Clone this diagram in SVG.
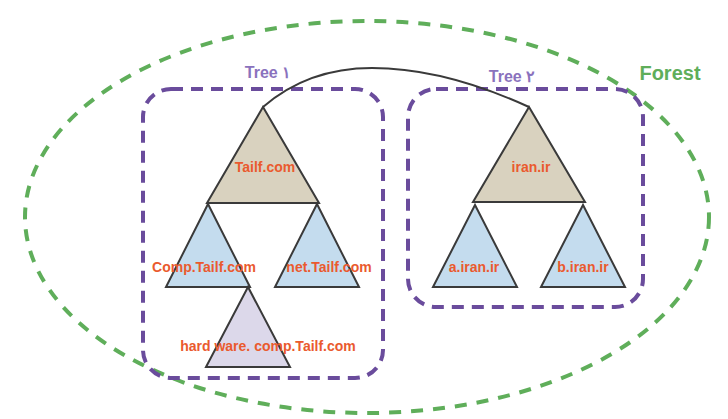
<svg xmlns="http://www.w3.org/2000/svg" width="728" height="419" viewBox="0 0 728 419">
<style>
.tri{stroke:#3a3a3a;stroke-width:2;stroke-linejoin:miter}
.root{fill:#d9d2bf}
.child{fill:#c4dcee}
.grand{fill:#dcd8ea}
.lbl{font-family:"Liberation Sans",Arial,sans-serif;font-weight:bold;font-size:14px;fill:#ea5a2e;text-anchor:middle}
.tree{font-family:"Liberation Sans",Arial,sans-serif;font-weight:bold;font-size:16px;fill:#8a72bd;text-anchor:middle}
.box{fill:none;stroke:#6a4c9c;stroke-width:4;stroke-dasharray:12 8}
.forest{fill:none;stroke:#5fae5a;stroke-width:4;stroke-dasharray:12 10}
</style>
<rect width="728" height="419" fill="#ffffff"/>
<g id="forest">
<ellipse class="forest" cx="367" cy="217" rx="342" ry="196"/>
<text x="670" y="80" font-family="'Liberation Sans',Arial,sans-serif" font-weight="bold" font-size="20" fill="#5fae5a" text-anchor="middle">Forest</text>
</g>
<g id="tree1">
<rect class="box" x="143" y="89" width="240" height="289" rx="28"/>
<text class="tree" x="268" y="78">Tree ۱</text>
</g>
<g id="tree2">
<rect class="box" x="408" y="89" width="235" height="218" rx="28"/>
<text class="tree" x="512" y="82">Tree ۲</text>
</g>
<g id="connectors">
<path d="M263,107 C300,75 340,68 372,68 C420,68 470,80 529,107" fill="none" stroke="#3a3a3a" stroke-width="2"/>
</g>
<g id="tailf">
<polygon class="tri root" points="263,107 207,203 319,203"/>
<text class="lbl" x="265" y="172">Tailf.com</text>
</g>
<g id="comp">
<polygon class="tri child" points="208,204 166,287 250,287"/>
<text class="lbl" x="204" y="272">Comp.Tailf.com</text>
</g>
<g id="net">
<polygon class="tri child" points="317,204 275,287 359,287"/>
<text class="lbl" x="329" y="272">net.Tailf.com</text>
</g>
<g id="hardware">
<polygon class="tri grand" points="248,287 206,367 290,367"/>
<text class="lbl" x="268" y="351">hard ware. comp.Tailf.com</text>
</g>
<g id="iran">
<polygon class="tri root" points="529,107 473,202 585,202"/>
<text class="lbl" x="531" y="172">iran.ir</text>
</g>
<g id="a-iran">
<polygon class="tri child" points="475,205 433,287 517,287"/>
<text class="lbl" x="474" y="272">a.iran.ir</text>
</g>
<g id="b-iran">
<polygon class="tri child" points="583,205 541,287 625,287"/>
<text class="lbl" x="583" y="272">b.iran.ir</text>
</g>
</svg>
